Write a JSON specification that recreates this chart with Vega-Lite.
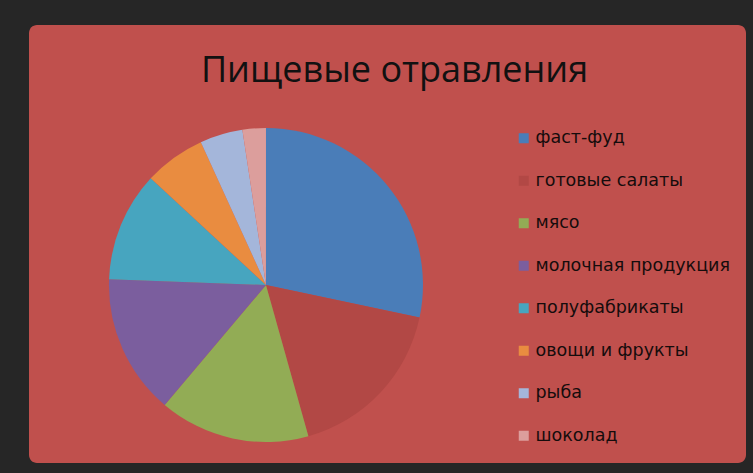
{
  "$schema": "https://vega.github.io/schema/vega-lite/v6.json",
  "width": 717,
  "height": 438,
  "autosize": "none",
  "padding": {"left": 29, "top": 25, "right": 7, "bottom": 10},
  "background": "#262626",
  "title": {
    "text": "Пищевые отравления",
    "font": "Open Sans",
    "fontSize": 36,
    "fontWeight": "normal",
    "color": "#111111",
    "anchor": "middle",
    "baseline": "alphabetic",
    "offset": -93,
    "dx": 7
  },
  "data": {
    "values": [
      {"category": "фаст-фуд", "value": 28.3, "order": 1},
      {"category": "готовые салаты", "value": 17.3, "order": 2},
      {"category": "мясо", "value": 15.5, "order": 3},
      {"category": "молочная продукция", "value": 14.4, "order": 4},
      {"category": "полуфабрикаты", "value": 11.3, "order": 5},
      {"category": "овощи и фрукты", "value": 6.3, "order": 6},
      {"category": "рыба", "value": 4.4, "order": 7},
      {"category": "шоколад", "value": 2.4, "order": 8}
    ]
  },
  "mark": {"type": "arc", "outerRadius": 157},
  "encoding": {
    "theta": {"field": "value", "type": "quantitative", "stack": true},
    "order": {"field": "order", "type": "quantitative"},
    "x": {"datum": 0.3305, "type": "quantitative", "scale": {"domain": [0, 1], "nice": false, "zero": false}, "axis": null},
    "y": {"datum": 0.4064, "type": "quantitative", "scale": {"domain": [0, 1], "nice": false, "zero": false}, "axis": null},
    "color": {
      "field": "category",
      "type": "nominal",
      "sort": null,
      "scale": {
        "domain": ["фаст-фуд", "готовые салаты", "мясо", "молочная продукция", "полуфабрикаты", "овощи и фрукты", "рыба", "шоколад"],
        "range": ["#4A7DB8", "#B24845", "#92AC55", "#7B5E9E", "#47A5BF", "#E98C40", "#A4B6DA", "#DC9E9C"]
      },
      "legend": {
        "title": null,
        "orient": "none",
        "legendX": 486,
        "legendY": 104.5,
        "symbolType": "square",
        "symbolSize": 100,
        "symbolStrokeWidth": 0,
        "labelFont": "DejaVu Sans",
        "labelFontSize": 17.5,
        "labelColor": "#150c0c",
        "labelOffset": 3,
        "rowPadding": 23.5,
        "padding": 0,
        "labelLimit": 300
      }
    }
  },
  "config": {
    "view": {"fill": "#C0504D", "stroke": null, "cornerRadius": 8}
  }
}
